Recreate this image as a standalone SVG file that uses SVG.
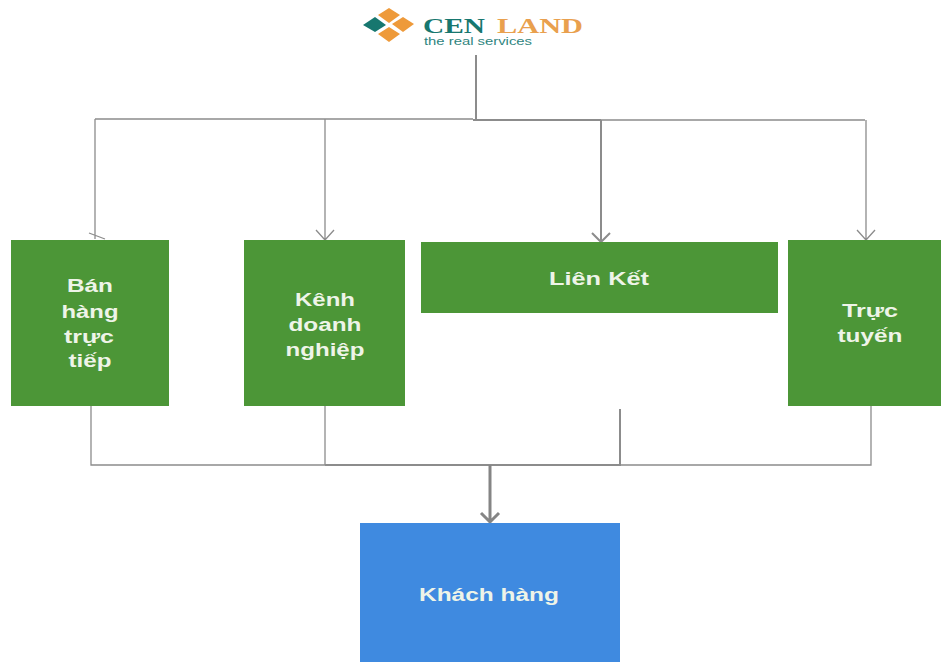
<svg xmlns="http://www.w3.org/2000/svg" width="941" height="662" viewBox="0 0 941 662">
<style>
.g{fill:#4c9637}
.b{fill:#3f8ae0}
.t{font-family:"Liberation Sans",Arial,sans-serif;font-weight:bold;font-size:18px;fill:#eef4e8;text-anchor:middle}
.c{fill:none;stroke:#8c8c8c;stroke-width:1.3}
.c2{fill:none;stroke:#8c8c8c;stroke-width:2}
.c3{fill:none;stroke:#858585;stroke-width:3}
.o{fill:#ee9a3a}
.te{fill:#17776f}
</style>
<rect width="941" height="662" fill="#fff"/>
<g id="logo">
<polygon class="te" points="363,25 375,17 386,25 375,32"/>
<polygon class="o" points="378,15 389,8 400,15 389,23"/>
<polygon class="o" points="392,24 403,17 414,24 403,32"/>
<polygon class="o" points="378,34 389,27 400,34 389,42"/>
<text x="423" y="33" font-family="'Liberation Serif',serif" font-weight="bold" font-size="22" fill="#17776f" textLength="62" lengthAdjust="spacingAndGlyphs">CEN</text>
<text x="497" y="33" font-family="'Liberation Serif',serif" font-weight="bold" font-size="22" fill="#e9a04e" textLength="86" lengthAdjust="spacingAndGlyphs">LAND</text>
<text x="424" y="44.500" font-family="'Liberation Sans',sans-serif" font-size="10" fill="#2f8580" textLength="108" lengthAdjust="spacingAndGlyphs">the real services</text>
</g>
<g id="connectors">
<path class="c2" d="M476 55V120"/>
<path class="c" d="M95 119H473M473 120H865"/>
<path class="c2" d="M473 120H601"/>
<path class="c" d="M95 119V239M89 233L105 239"/>
<path class="c" d="M325 119V240M316 230L325 240L334 230"/>
<path class="c2" d="M601 120V242M592 233L601 242L610 233"/>
<path class="c" d="M866 120V240M857 230L866 240L875 230"/>
<path class="c" d="M91 405V465H871V405"/>
<path class="c" d="M325 405V465"/>
<path class="c2" d="M325 465H620V409"/>
<path class="c3" d="M490 465V522M481 513L490 522L499 513"/>
</g>
<g id="ban-hang"><rect class="g" x="11" y="240" width="158" height="166"/>
<text class="t" x="90" y="292" textLength="46" lengthAdjust="spacingAndGlyphs">Bán</text><text class="t" x="90" y="318" textLength="57" lengthAdjust="spacingAndGlyphs">hàng</text><text class="t" x="89" y="343" textLength="50" lengthAdjust="spacingAndGlyphs">trực</text><text class="t" x="90" y="367" textLength="43" lengthAdjust="spacingAndGlyphs">tiếp</text></g>
<g id="kenh-doanh-nghiep"><rect class="g" x="244" y="240" width="161" height="166"/>
<text class="t" x="325" y="306" textLength="60" lengthAdjust="spacingAndGlyphs">Kênh</text><text class="t" x="325" y="331" textLength="73" lengthAdjust="spacingAndGlyphs">doanh</text><text class="t" x="325" y="356" textLength="79" lengthAdjust="spacingAndGlyphs">nghiệp</text></g>
<g id="lien-ket"><rect class="g" x="421" y="242" width="357" height="71"/>
<text class="t" x="599" y="285" textLength="100" lengthAdjust="spacingAndGlyphs">Liên Kết</text></g>
<g id="truc-tuyen"><rect class="g" x="788" y="240" width="153" height="166"/>
<text class="t" x="870" y="317" textLength="56" lengthAdjust="spacingAndGlyphs">Trực</text><text class="t" x="870" y="342" textLength="65" lengthAdjust="spacingAndGlyphs">tuyến</text></g>
<g id="khach-hang"><rect class="b" x="360" y="523" width="260" height="139"/>
<text class="t" x="489" y="601" textLength="140" lengthAdjust="spacingAndGlyphs">Khách hàng</text></g>
</svg>
